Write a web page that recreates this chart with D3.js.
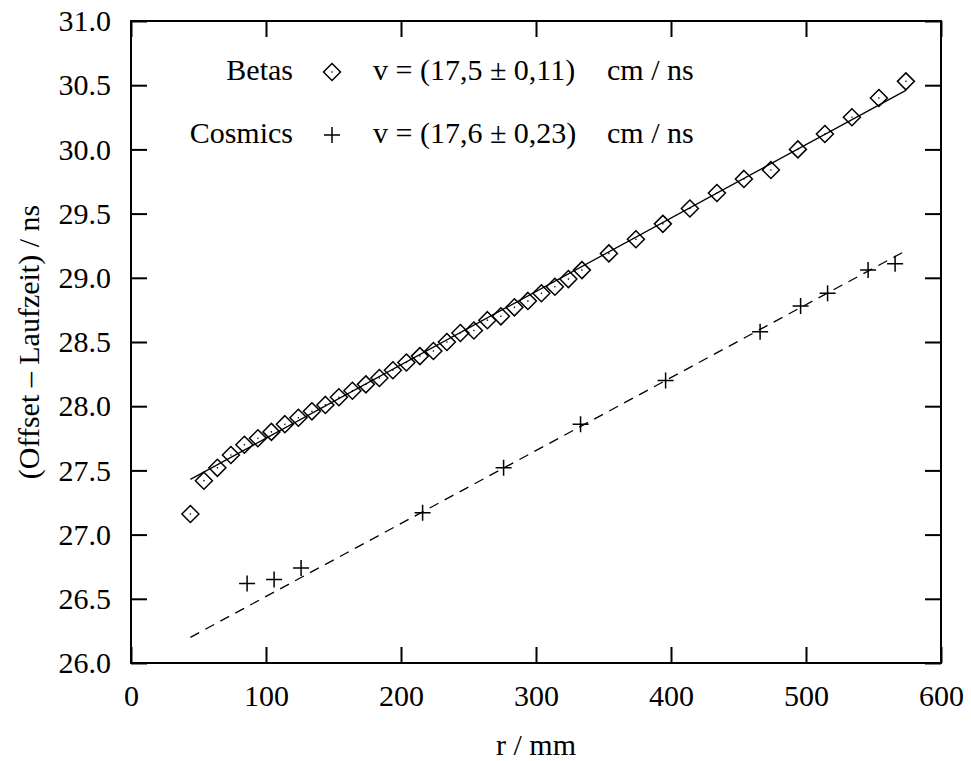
<!DOCTYPE html>
<html>
<head>
<meta charset="utf-8">
<script src="https://cdn.jsdelivr.net/npm/d3@7"></script>
<style>
  body { margin: 0; background: #fff; }
  svg { display: block; }
  text { font-family: "Liberation Serif", "Times New Roman", Times, serif; fill: #000; }
</style>
</head>
<body>
<svg width="971" height="761"></svg>
<script>
// Betas: r / mm and (Offset - Laufzeit) / ns
var betaR = [44, 54, 64, 74, 84, 94, 104, 114, 124, 134, 144, 154, 164, 174, 184,
  194, 204, 214, 224, 234, 244, 254, 264, 274, 284, 294, 304, 314, 324, 334,
  354, 374, 394, 414, 434, 454, 474, 494, 514, 534, 554, 574];
var betaT = [27.16, 27.42, 27.52, 27.62, 27.70, 27.75, 27.80, 27.86, 27.91, 27.96,
  28.01, 28.07, 28.12, 28.17, 28.22, 28.28, 28.34, 28.39, 28.43, 28.50,
  28.57, 28.59, 28.67, 28.70, 28.77, 28.82, 28.88, 28.93, 28.99, 29.06,
  29.19, 29.30, 29.42, 29.54, 29.66, 29.77, 29.84, 30.00, 30.12, 30.25,
  30.40, 30.53];

// Cosmics
var cosmicR = [86, 106, 126, 216, 276, 333, 396, 466, 496, 516, 546, 566];
var cosmicT = [26.62, 26.65, 26.74, 27.17, 27.52, 27.86, 28.20, 28.58, 28.78, 28.88, 29.06, 29.11];

// linear fits (end points)
var betaFitR = [44, 574];
var betaFitT = [27.43, 30.46];
var cosmicFitR = [44, 572];
var cosmicFitT = [26.20, 29.20];

var xTicks = [0, 100, 200, 300, 400, 500, 600];
var yTicks = [26.0, 26.5, 27.0, 27.5, 28.0, 28.5, 29.0, 29.5, 30.0, 30.5, 31.0];

var legendNames = ["Betas", "Cosmics"];
var legendValues = ["v = (17,5 \u00b1 0,11)", "v = (17,6 \u00b1 0,23)"];
var legendUnit = "cm / ns";

var svg = d3.select("svg");
var plotLeft = 131, plotRight = 941, plotTop = 21, plotBottom = 663;
var tickLen = 16;

var x = d3.scaleLinear().domain([0, 600]).range([plotLeft, plotRight]);
var y = d3.scaleLinear().domain([26, 31]).range([plotBottom, plotTop]);

function styleAxis(g) {
  g.selectAll("line").attr("stroke", "#000").attr("stroke-width", 2);
  g.selectAll("path").remove();
  g.selectAll("text")
    .attr("font-family", "Liberation Serif")
    .attr("font-size", 30)
    .attr("fill", "#000");
}

svg.append("g")
  .attr("transform", "translate(0," + plotBottom + ")")
  .call(d3.axisBottom(x).tickValues(xTicks).tickSizeInner(-tickLen).tickSizeOuter(0).tickPadding(22))
  .call(styleAxis);

svg.append("g")
  .attr("transform", "translate(0," + plotTop + ")")
  .call(d3.axisTop(x).tickValues(xTicks).tickSizeInner(-tickLen).tickSizeOuter(0).tickFormat(""))
  .call(styleAxis);

svg.append("g")
  .attr("transform", "translate(" + plotLeft + ",0)")
  .call(d3.axisLeft(y).tickValues(yTicks).tickSizeInner(-tickLen).tickSizeOuter(0).tickPadding(20)
    .tickFormat(d3.format(".1f")))
  .call(styleAxis);

svg.append("g")
  .attr("transform", "translate(" + plotRight + ",0)")
  .call(d3.axisRight(y).tickValues(yTicks).tickSizeInner(-tickLen).tickSizeOuter(0).tickFormat(""))
  .call(styleAxis);

// frame
svg.append("rect")
  .attr("x", plotLeft)
  .attr("y", plotTop)
  .attr("width", plotRight - plotLeft)
  .attr("height", plotBottom - plotTop)
  .attr("fill", "none")
  .attr("stroke", "#000")
  .attr("stroke-width", 2);

// axis titles
svg.append("text")
  .attr("x", (plotLeft + plotRight) / 2)
  .attr("y", 755)
  .attr("text-anchor", "middle")
  .style("font-size", "30px")
  .text("r / mm");

svg.append("text")
  .attr("transform", "translate(39," + (plotTop + plotBottom) / 2 + ") rotate(-90)")
  .attr("text-anchor", "middle")
  .style("font-size", "30px")
  .text("(Offset \u2013 Laufzeit) / ns");

// fit lines
var line = d3.line()
  .x(function (d) { return x(d[0]); })
  .y(function (d) { return y(d[1]); });

svg.append("path")
  .datum(d3.zip(betaFitR, betaFitT))
  .attr("d", line)
  .attr("fill", "none")
  .attr("stroke", "#000")
  .attr("stroke-width", 1.3);

svg.append("path")
  .datum(d3.zip(cosmicFitR, cosmicFitT))
  .attr("d", line)
  .attr("fill", "none")
  .attr("stroke", "#000")
  .attr("stroke-width", 1.3)
  .attr("stroke-dasharray", "10,7");

// markers
var ds = 8.5;
function diamond(g) {
  g.append("path")
    .attr("d", "M0," + (-ds) + "L" + ds + ",0L0," + ds + "L" + (-ds) + ",0Z")
    .attr("fill", "none")
    .attr("stroke", "#000")
    .attr("stroke-width", 1.5);
  g.append("circle")
    .attr("r", 0.8)
    .attr("fill", "#000");
}
var cs = 8;
function cross(g) {
  g.append("path")
    .attr("d", "M" + (-cs) + ",0H" + cs + "M0," + (-cs) + "V" + cs)
    .attr("stroke", "#000")
    .attr("stroke-width", 1.5);
}

svg.append("g")
  .selectAll("g")
  .data(d3.zip(betaR, betaT))
  .enter()
  .append("g")
  .attr("transform", function (d) {
    return "translate(" + x(d[0]) + "," + y(d[1]) + ")";
  })
  .call(diamond);

svg.append("g")
  .selectAll("g")
  .data(d3.zip(cosmicR, cosmicT))
  .enter()
  .append("g")
  .attr("transform", function (d) {
    return "translate(" + x(d[0]) + "," + y(d[1]) + ")";
  })
  .call(cross);

// legend
var legendY = [80, 143];
var legend = svg.append("g");
legendNames.forEach(function (name, i) {
  var ly = legendY[i];
  legend.append("text")
    .attr("x", 293)
    .attr("y", ly)
    .attr("text-anchor", "end")
    .style("font-size", "30px")
    .text(name);
  var m = legend.append("g").attr("transform", "translate(332," + (ly - 8) + ")");
  if (i === 0) m.call(diamond);
  else m.call(cross);
  legend.append("text")
    .attr("x", 373)
    .attr("y", ly)
    .style("font-size", "30px")
    .text(legendValues[i]);
  legend.append("text")
    .attr("x", 607)
    .attr("y", ly)
    .style("font-size", "30px")
    .text(legendUnit);
});
</script>
</body>
</html>
